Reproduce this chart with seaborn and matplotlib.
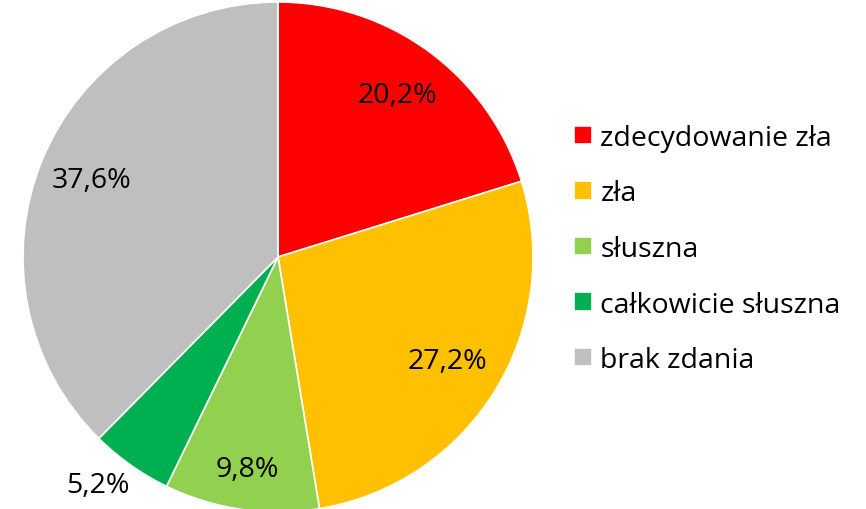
import numpy as np
import seaborn as sns
import matplotlib.pyplot as plt

categories = ['zdecydowanie zła', 'zła', 'słuszna', 'całkowicie słuszna', 'brak zdania']
values = [20.2, 27.2, 9.8, 5.2, 37.6]
labels = ['20,2%', '27,2%', '9,8%', '5,2%', '37,6%']
colors = ['#FF0000', '#FFC000', '#92D050', '#00B050', '#BFBFBF']

sns.set_theme(style='white')
plt.rcParams['font.family'] = ['Open Sans', 'DejaVu Sans']
plt.rcParams['text.color'] = 'black'

fig = plt.figure(figsize=(8.66, 5.10), dpi=100)
# pie centre about (278, 258) px, radius about 255 px
ax = fig.add_axes([23 / 866, (252 - 255) / 510, 510 / 866, 510 / 510])

wedges, _ = ax.pie(values, colors=colors, startangle=90, counterclock=False,
                   radius=1, wedgeprops=dict(edgecolor='white', linewidth=1.2))
ax.set_xlim(-1, 1)
ax.set_ylim(-1, 1)
ax.set_aspect('equal')
ax.axis('off')

# label distance from centre and small angle shift, per slice
label_dist = [0.79, 0.78, 0.84, 1.14, 0.79]
label_shift = [0, 0, 0, -3, 0]
for w, lab, d, s in zip(wedges, labels, label_dist, label_shift):
    ang = np.deg2rad((w.theta1 + w.theta2) / 2 + s)
    ax.text(d * np.cos(ang), d * np.sin(ang), lab, ha='center', va='center',
            fontsize=20.5, color='black', clip_on=False)

fig.legend(wedges, categories, loc='center left', bbox_to_anchor=(574 / 866, 1 - 250 / 510),
           frameon=False, fontsize=20.5, handlelength=0.62, handleheight=0.62,
           handletextpad=0.31, labelspacing=0.97, borderpad=0, borderaxespad=0)

fig.savefig('out.png', dpi=100)
